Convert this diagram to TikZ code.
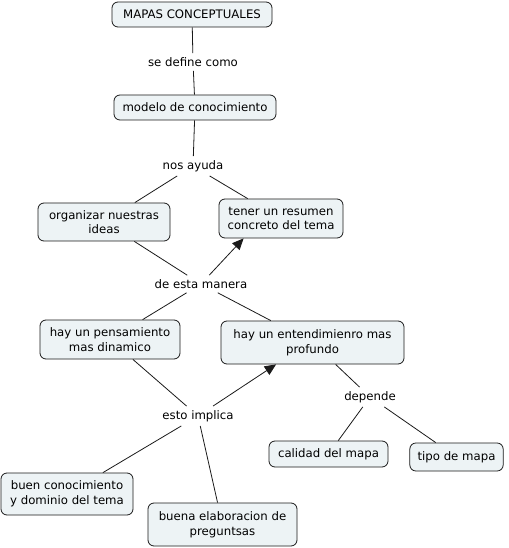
\documentclass[tikz,border=0pt]{standalone}
\usepackage{fontspec}
\setmainfont{DejaVu Sans}
\usetikzlibrary{arrows.meta}
\definecolor{boxfill}{HTML}{EDF3F5}
\definecolor{edgecol}{HTML}{1A1A1A}
\begin{document}
\begin{tikzpicture}[x=0.75pt,y=-0.75pt,
  txt/.style={font=\fontsize{8.8}{11}\selectfont, align=center},
  concept/.style={txt, draw=edgecol, line width=0.6pt, fill=boxfill, rounded corners=4.5pt, inner sep=0pt},
  lbl/.style={txt, inner sep=3pt},
  link/.style={draw=edgecol, line width=0.6pt},
  arr/.style={link, -{Triangle[length=8.5pt,width=7.5pt]}}]
\useasboundingbox[fill=white] (0,0) rectangle (508,548);
% concepts
\node[concept, minimum width=120pt, minimum height=18.75pt] (mc) at (192,14.5) {MAPAS CONCEPTUALES};
\node[concept, minimum width=121.5pt, minimum height=18.75pt] (mod) at (195,107.5) {modelo de conocimiento};
\node[concept, minimum width=99pt, minimum height=28.5pt] (org) at (104,222) {organizar nuestras\\ideas};
\node[concept, minimum width=93pt, minimum height=29.25pt] (ten) at (281,218.5) {tener un resumen\\concreto del tema};
\node[concept, minimum width=105pt, minimum height=29.25pt] (pen) at (110,339.5) {hay un pensamiento\\mas dinamico};
\node[concept, minimum width=137.25pt, minimum height=32.25pt] (ent) at (312.5,342.5) {hay un entendimienro mas\\profundo};
\node[concept, minimum width=89.25pt, minimum height=19.5pt] (cal) at (328.5,454) {calidad del mapa};
\node[concept, minimum width=70pt, minimum height=21pt] (tip) at (456.5,457) {tipo de mapa};
\node[concept, minimum width=99pt, minimum height=31.5pt] (bue) at (67,494) {buen conocimiento\\y dominio del tema};
\node[concept, minimum width=111.75pt, minimum height=32.25pt] (ela) at (222.5,524.5) {buena elaboracion de\\preguntsas};
% linking phrases
\node[lbl] (l1) at (193,62) {se define como};
\node[lbl] (l2) at (193,166) {nos ayuda};
\node[lbl] (l3) at (201,284) {de esta manera};
\node[lbl] (l4) at (198,416) {esto implica};
\node[lbl] (l5) at (370,397) {depende};
% connectors
\draw[link] (mc) -- (l1);
\draw[link] (l1) -- (mod);
\draw[link] (mod) -- (l2);
\draw[link] (l2) -- (org);
\draw[link] (l2) -- (ten);
\draw[link] (org) -- (l3);
\draw[arr] (l3) -- (ten.208);
\draw[link] (l3) -- (pen);
\draw[link] (l3) -- (ent);
\draw[link] (pen) -- (l4);
\draw[arr] (l4) -- (ent.211);
\draw[link] (l4) -- (bue);
\draw[link] (l4) -- (ela);
\draw[link] (ent) -- (l5);
\draw[link] (l5) -- (cal);
\draw[link] (l5) -- (tip);
\end{tikzpicture}
\end{document}
